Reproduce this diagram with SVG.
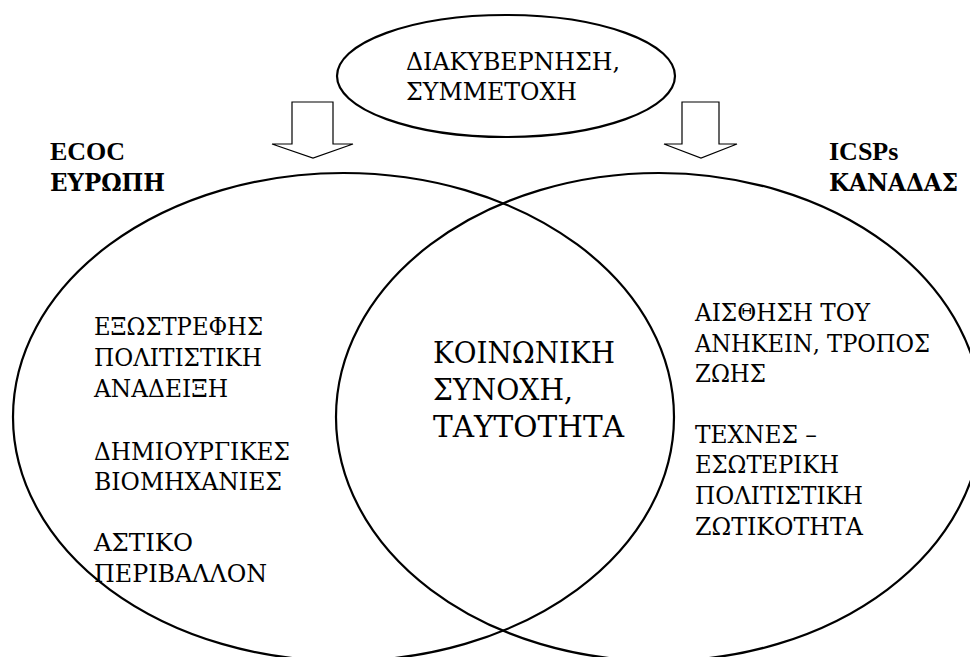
<svg xmlns="http://www.w3.org/2000/svg" width="970" height="657" viewBox="0 0 970 657">
  <style>
    .ring { fill: none; stroke: #000; stroke-width: 2.2; }
    .arrow { fill: #fff; stroke: #000; stroke-width: 1.2; stroke-linejoin: miter; }
    .body { font-size: 24px; }
    .head { font-size: 24.5px; }
    .title { font-size: 23.5px; font-weight: bold; }
    .latTitle { font-size: 26px; font-weight: bold; }
    .core { font-size: 29px; }
  </style>
  <rect width="970" height="657" fill="#fff"/>

  <!-- downward block arrows from the governance bubble -->
  <g id="connectors">
    <polygon class="arrow" points="292,102 333,102 333,144 353,144 313,158 272,144 292,144"/>
    <polygon class="arrow" points="682,102 719,102 719,144 737,144 701,158 664,144 682,144"/>
  </g>

  <!-- Greek labels use DejaVu Serif (squeezed to Times widths), Latin labels Liberation Serif -->
  <g font-family="DejaVu Serif, serif" fill="#000">
  <g id="governance">
    <ellipse class="ring" cx="506" cy="76" rx="169" ry="61"/>
    <text class="head" x="406" y="70" textLength="214" lengthAdjust="spacingAndGlyphs">ΔΙΑΚΥΒΕΡΝΗΣΗ,</text>
    <text class="head" x="406" y="100" textLength="171" lengthAdjust="spacingAndGlyphs">ΣΥΜΜΕΤΟΧΗ</text>
  </g>

  <g id="ecoc">
    <ellipse class="ring" cx="343.5" cy="417" rx="330.5" ry="244"/>
    <text class="latTitle" font-family="Liberation Serif" x="50" y="160">ECOC</text>
    <text class="title" x="50" y="191" textLength="115" lengthAdjust="spacingAndGlyphs">ΕΥΡΩΠΗ</text>
    <text class="body" x="94" y="335" textLength="169" lengthAdjust="spacingAndGlyphs">ΕΞΩΣΤΡΕΦΗΣ</text>
    <text class="body" x="94" y="366" textLength="168" lengthAdjust="spacingAndGlyphs">ΠΟΛΙΤΙΣΤΙΚΗ</text>
    <text class="body" x="94" y="397" textLength="134" lengthAdjust="spacingAndGlyphs">ΑΝΑΔΕΙΞΗ</text>
    <text class="body" x="94" y="460" textLength="196" lengthAdjust="spacingAndGlyphs">ΔΗΜΙΟΥΡΓΙΚΕΣ</text>
    <text class="body" x="94" y="490" textLength="188" lengthAdjust="spacingAndGlyphs">ΒΙΟΜΗΧΑΝΙΕΣ</text>
    <text class="body" x="94" y="551" textLength="99" lengthAdjust="spacingAndGlyphs">ΑΣΤΙΚΟ</text>
    <text class="body" x="94" y="582" textLength="173" lengthAdjust="spacingAndGlyphs">ΠΕΡΙΒΑΛΛΟΝ</text>
  </g>

  <g id="icsps">
    <ellipse class="ring" cx="659" cy="417" rx="323" ry="244"/>
    <text class="latTitle" font-family="Liberation Serif" x="829" y="160">ICSPs</text>
    <text class="title" x="829" y="191" textLength="129" lengthAdjust="spacingAndGlyphs">ΚΑΝΑΔΑΣ</text>
    <text class="body" x="695" y="321" textLength="175" lengthAdjust="spacingAndGlyphs">ΑΙΣΘΗΣΗ ΤΟΥ</text>
    <text class="body" x="695" y="352" textLength="235" lengthAdjust="spacingAndGlyphs">ΑΝΗΚΕΙΝ, ΤΡΟΠΟΣ</text>
    <text class="body" x="695" y="382" textLength="71" lengthAdjust="spacingAndGlyphs">ΖΩΗΣ</text>
    <text class="body" x="695" y="443" textLength="122" lengthAdjust="spacingAndGlyphs">ΤΕΧΝΕΣ –</text>
    <text class="body" x="695" y="473" textLength="144" lengthAdjust="spacingAndGlyphs">ΕΣΩΤΕΡΙΚΗ</text>
    <text class="body" x="695" y="504" textLength="168" lengthAdjust="spacingAndGlyphs">ΠΟΛΙΤΙΣΤΙΚΗ</text>
    <text class="body" x="695" y="535" textLength="168" lengthAdjust="spacingAndGlyphs">ΖΩΤΙΚΟΤΗΤΑ</text>
  </g>

  <g id="cohesion">
    <text class="core" x="433" y="363" textLength="182" lengthAdjust="spacingAndGlyphs">ΚΟΙΝΩΝΙΚΗ</text>
    <text class="core" x="433" y="400" textLength="140" lengthAdjust="spacingAndGlyphs">ΣΥΝΟΧΗ,</text>
    <text class="core" x="433" y="437" textLength="191" lengthAdjust="spacingAndGlyphs">ΤΑΥΤΟΤΗΤΑ</text>
  </g>
  </g>
</svg>
